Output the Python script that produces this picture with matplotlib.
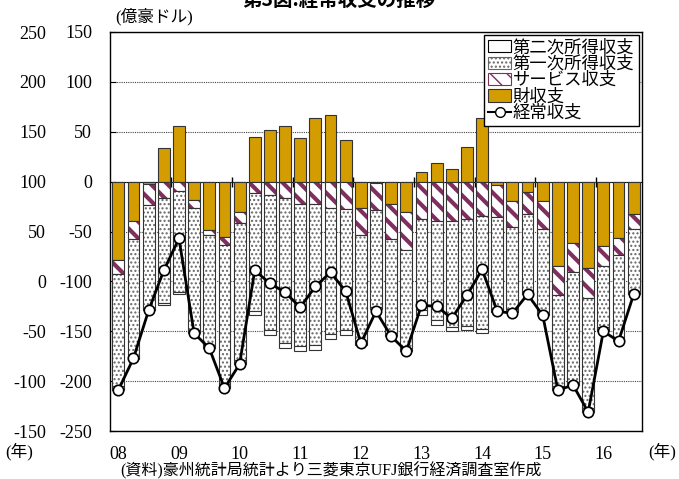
import numpy as np
import matplotlib.pyplot as plt
from matplotlib.patches import Patch
from matplotlib.lines import Line2D

plt.rcParams['font.family'] = ['Liberation Serif', 'Noto Sans CJK JP']
plt.rcParams['axes.unicode_minus'] = False
plt.rcParams['hatch.linewidth'] = 1.0

# quarterly data 2008Q1 - 2016Q3 (億豪ドル)
year_labels = ['08', '09', '10', '11', '12', '13', '14', '15', '16']
goods = [-79, -39, -2, 34, 55.5, -18.5, -48.5, -55.5, -30, 45, 52, 55.5,
         44, 64, 66.5, 42, -26, -1.5, -22.5, -30, 9.5, 18.5, 13, 34.5,
         64, -3, -19, -10, -19, -85, -62, -87, -65, -57, -32]
services = [-13.5, -18.5, -21, -16.5, -9, -7.5, -5.5, -8.5, -11.5, -11.5, -13.5, -16.5,
            -22.5, -22, -26, -27, -28, -27, -35, -39, -37, -39.5, -39.5, -37.5,
            -34, -32, -26, -22, -28.5, -28.5, -28.5, -29.5, -19.5, -17, -15]
primary = [-112, -118.5, -104, -105, -102, -123, -110, -139, -137, -118, -135, -145,
           -142.5, -142, -127, -122, -107, -97, -94, -98, -91.5, -99, -106, -107,
           -113.5, -94, -82.5, -78, -84, -91, -110, -110, -61.5, -83, -63]
secondary = [-4, -1.5, -2, -2, -1.5, -3, -3, -4, -4, -4, -5, -5,
             -5, -5, -5, -4.5, -3, -2.5, -3, -3, -5, -5, -4.5, -4,
             -4.5, -2, -3, -3, -2, -4, -3, -4, -4, -3, -3]
current = [-209, -177, -129, -89, -57, -152, -167, -207, -183, -89, -102, -111,
           -126, -105, -91, -110, -162, -130, -155, -170, -124, -125, -137, -114,
           -88, -130, -132, -113, -134, -209, -204, -231, -150, -160, -113]

goods = np.array(goods)
services = np.array(services)
primary = np.array(primary)
secondary = np.array(secondary)
x = np.arange(len(goods))

gold = '#D39C00'
purple = '#7E2F5E'
edge = '#333333'
w = 0.78


def thick_hatch(patches, lw):
    for p in patches:
        if hasattr(p, 'set_hatch_linewidth'):
            p.set_hatch_linewidth(lw)


fig = plt.figure(figsize=(6.79, 4.79), dpi=100)
ax = fig.add_axes([110/679, 1-431/479, (642-110)/679, (431-32)/479])

base = np.minimum(goods, 0)
# goods
ax.bar(x, goods, w, color=gold, edgecolor=edge, lw=0.8, zorder=2)
# services (hatched)
sv = ax.bar(x, services, w, bottom=base, color='white', edgecolor=purple, hatch='\\\\', lw=0, zorder=2)
thick_hatch(sv, 3.0)
ax.bar(x, services, w, bottom=base, fill=False, edgecolor=edge, lw=0.8, zorder=2)
# primary income (dotted)
b2 = base + services
ax.bar(x, primary, w, bottom=b2, color='white', edgecolor='#666666', hatch='....', lw=0, zorder=2)
ax.bar(x, primary, w, bottom=b2, fill=False, edgecolor=edge, lw=0.8, zorder=2)
# secondary income
b3 = b2 + primary
ax.bar(x, secondary, w, bottom=b3, color='white', edgecolor=edge, lw=0.8, zorder=2)

ax.plot(x, current, color='black', lw=2, marker='o', ms=7.5, mfc='white', mec='black', mew=1.2, zorder=5)

ax.set_xlim(-0.55, len(x) - 0.45)
ax.set_ylim(-250, 150)
ax.set_yticks(np.arange(-250, 151, 50))
ax.tick_params(axis='y', direction='in', length=4, labelsize=13, pad=13)
ax.set_xticks(x[::4])
ax.set_xticklabels(year_labels)
ax.tick_params(axis='x', length=0, labelsize=13, pad=11)
ax.yaxis.grid(True, linestyle=(0, (1, 1)), color='#444444', lw=0.8)
ax.set_axisbelow(True)
for s in ax.spines.values():
    s.set_linewidth(1.0)

# outer left scale
sec = ax.secondary_yaxis('left', functions=(lambda y: y + 100, lambda y: y - 100))
sec.set_yticks(np.arange(-150, 251, 50))
sec.tick_params(length=0, labelsize=13, pad=46)
sec.spines['left'].set_visible(False)

# zero line with year ticks
zx = ax.secondary_xaxis(250/400)
zx.set_xticks(x[3:-1:4] + 0.5)
zx.set_xticklabels([])
zx.tick_params(direction='inout', length=7, width=1)
zx.spines['bottom'].set_linewidth(1.2)

hp = Patch(facecolor='white', edgecolor=purple, hatch='\\\\', lw=0.8)
thick_hatch([hp], 2.5)
handles = [
    Patch(facecolor='white', edgecolor='black', lw=0.8),
    Patch(facecolor='white', edgecolor='#666666', hatch='....', lw=0.8),
    hp,
    Patch(facecolor=gold, edgecolor=edge, lw=0.8),
    Line2D([], [], color='black', lw=1.5, marker='o', ms=7, mfc='white', mec='black'),
]
labels = ['第二次所得収支', '第一次所得収支', 'サービス収支', '財収支', '経常収支']
leg = ax.legend(handles, labels, loc='upper right', bbox_to_anchor=(1, 1), borderaxespad=0.2,
                fontsize=12.5, handlelength=1.3, handletextpad=0.1, labelspacing=0.0,
                borderpad=0.25, fancybox=False, framealpha=1, edgecolor='black')
leg.get_frame().set_linewidth(1.0)
leg.set_zorder(10)

fig.text(0.5, 1.0, '第3図:経常収支の推移', ha='center', va='center', fontsize=14,
         fontweight='bold', family=['Noto Sans CJK JP'])
fig.text(115/679, 1-17/479, '(億豪ドル)', ha='left', va='center', fontsize=12)
fig.text(5/679, 1-452/479, '(年)', ha='left', va='center', fontsize=12)
fig.text(676/679, 1-452/479, '(年)', ha='right', va='center', fontsize=12)
fig.text(120/679, 1-471/479, '(資料)豪州統計局統計より三菱東京UFJ銀行経済調査室作成', ha='left', va='center', fontsize=11.5)

fig.savefig('out.png', dpi=100)
